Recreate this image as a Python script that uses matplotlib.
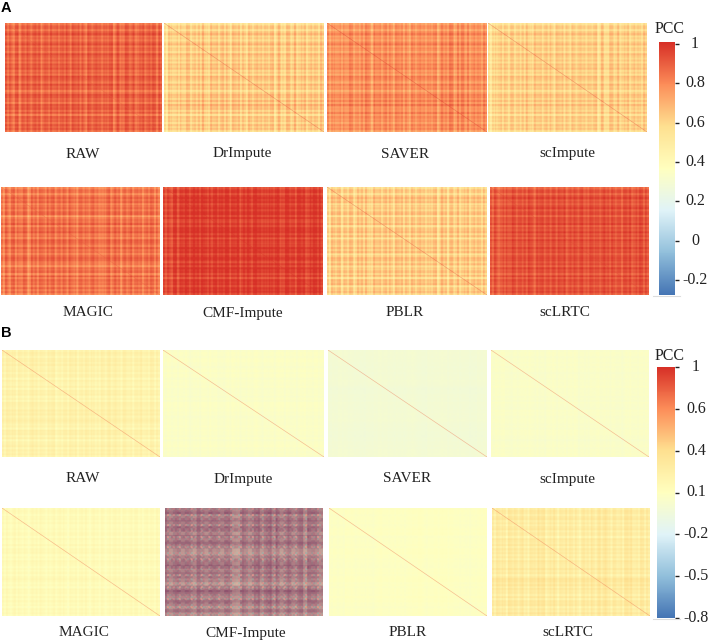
import numpy as np
import matplotlib

matplotlib.use("Agg")
import matplotlib.pyplot as plt
from matplotlib.cm import ScalarMappable
from matplotlib.colors import LinearSegmentedColormap, Normalize

W, H = 709, 642

# row / column banding, in 0.01 PCC around the panel level
names_a = ["RAW", "DrImpute", "SAVER", "scImpute", "MAGIC", "CMF-Impute", "PBLR", "scLRTC"]
names_b = ["RAW", "DrImpute", "SAVER", "scImpute", "MAGIC", "CMF-Impute", "PBLR", "scLRTC"]
levels_a = [0.89, 0.63, 0.78, 0.62, 0.85, 0.97, 0.63, 0.93]
levels_b = [0.21, 0.06, -0.01, 0.05, 0.14, 0.10, 0.08, 0.27]
diag_a = [0.9, 0.95, 1.0, 0.95, 0.9, 1.0, 0.95, 0.95]
diag_b = [0.85, 0.85, 0.85, 0.85, 0.85, 0.1, 0.85, 0.85]
grain_a = [1.6, 2.1, 1.8, 1.9, 1.8, 1.3, 2.1, 1.4]
grain_b = [1.4, 0.5, 0.2, 0.4, 1.0, 2.0, 0.3, 1.9]

# fine stripes shared by the panels, the cells are the same in every method
fine_rows = [-2, 1, 0, -3, 1, 2, -1, 1, -3, 0, 2, -2, 1, 1, -3, 2, 0, -1, 2, -3, 1, 0, 2, -2, 1, -3, 2, 1, 0, -2, 2, -1, 1, -3, 0, 2, 1, -2, 1, -3, 2, 0, 1, -2, 2, -3, 1, 0, 2, -3, 1, -1, 2, -2]
fine_cols = [1, -3, 2, 0, -2, 1, 2, -3, 1, 0, -2, 2, 1, -3, 0, 2, -1, 1, -3, 2, 1, 0, -3, 2, -1, 1, 2, -3, 0, 1, -2, 2, 1, -3, 2, 0, -1, 2, -3, 1, 1, -2, 2, 0, -3, 1, 2, -1, 0, -3, 2, 1, -2, 1, 2, -3, 0, 2, -1, 1, -3, 2, 1, -2, 0, 2, -3, 1, 1, -1, 2, -3, 0, 1, -2, 2, 1, -3, 2, -1]

raw_a_rows = [-4, 1, -1, 2, -3, 1, 2, 0, -2, 2, 1, -3, 2, 0, 1, -2, 2, 1, -1, 2, 0, -4, 1, 2, -2, 1, 2, 0, -4, 1, -3, 2, 1, -2]
raw_a_cols = [2, -2, -5, 1, -5, 2, 1, -2, 2, 0, 2, -6, 1, 2, 0, -3, 2, 1, 2, -2, 1, 2, 0, 2, -6, 1, 2, -1, 2, 1, -3, 2, 1, -5, 2, -6, 1, 2, -2, 1, -6, 2, 1, 0, 2, 1, -2, 2]
dr_a_rows = [-6, 1, -2, 2, -3, 1, 3, 0, -2, 2, 1, -3, 3, 0, 1, -2, 2, 1, -1, 2, 0, -2, 1, 3, 5, 6, 2, 0, -4, 1, -3, 3, 1, -4]
dr_a_cols = [-9, -3, 1, -7, 2, -4, 1, 2, 0, -3, 2, 5, -5, 1, 3, -2, 2, 4, 1, -5, 1, 3, 0, 2, -5, 1, 3, -1, 2, 5, -2, 2, 1, -4, 4, -6, 1, 3, -3, 5, -5, 2, 1, 0, 3, -2, 1, 2]
saver_a_rows = [-3, 0, -2, 2, -3, 1, 3, 0, -3, 2, 1, -3, 3, 0, 1, -2, 2, 1, -2, 2, 0, -2, 1, 3, 4, 5, -3, 2, 3, 1, -4, 2, 1, -3]
saver_a_cols = [2, -3, 2, -5, 1, -3, 2, 2, 0, -4, 2, 3, 1, -5, 3, -2, 2, 4, 1, -3, 1, 3, 0, 2, -5, 1, 3, -1, 2, 3, -2, 2, 1, -4, 3, 1, 4, 5, -5, 3, 5, -3, 2, 0, 3, -2, 1, 2]
sc_a_rows = [-5, 1, -2, 2, -3, 1, 2, 0, -2, 2, 1, -3, 2, 0, 1, -2, 2, 1, -1, 2, 0, -2, 1, 2, 3, 4, -2, 1, -3, 1, -3, 2, 1, -4]
sc_a_cols = [-9, -7, 1, -3, 2, 1, -3, 2, 0, -3, 2, 3, -4, 1, 3, -2, 2, 3, 1, -4, 1, 3, 0, 2, -3, 1, 3, -1, 2, 3, -2, 2, 1, -7, 4, -9, 1, 3, -2, 3, -4, 2, 1, 0, 3, -3, 1, 2]
magic_a_rows = [-3, 1, -3, 0, 2, 1, -2, 1, 2, -8, 1, 2, 0, 1, 2, -2, 1, 2, 0, 1, -1, 2, 1, 2, -5, -3, 1, -5, 2, 1, -3, 2, -2, -4]
magic_a_cols = [-3, 1, -3, 2, 1, -2, 1, 2, -8, 1, 2, 0, 1, 2, 0, 2, 1, 2, 1, 0, 2, 1, -5, 1, 2, -2, 2, 1, 0, 2, -8, 1, 2, 0, 2, 1, -4, 2, 1, 2, 0, 2, -2, 1, 2, 1, 0, -4]
cmf_a_rows = [-3, 2, -1, 1, 2, 1, 0, 1, 2, 1, -3, -2, 1, 2, 0, 1, -2, -3, 1, 2, 1, 0, 1, -2, 1, 2, 0, -2, -3, 1, -2, 1, 2, -3]
cmf_a_cols = [-3, -4, -6, 1, -4, 1, 2, 0, 1, 2, 2, 1, 0, 1, -3, 1, 2, 0, 1, 2, -2, 1, 2, -4, 1, 1, 0, 2, 1, 2, -4, 1, -3, 2, 1, -5, 1, 2, 0, -3, 2, 1, 0, -4, 2, 1, 2, -2]
pblr_a_rows = [-3, 1, -2, 2, 3, 1, -4, 1, 3, -4, 2, 1, -3, 2, 0, 2, -4, 1, 2, 0, 3, -2, 1, 2, 3, -5, 2, 1, -4, 2, 1, -3, 2, -2]
pblr_a_cols = [-5, 1, 3, 1, -3, 2, 0, 2, -5, 1, 3, 2, -6, 1, 3, -3, 2, 3, 1, -4, 1, 3, 0, 2, -3, 1, 3, -1, 2, 3, -5, 2, 1, -6, 3, 1, -4, 3, -3, 2, -4, 2, 1, 0, 3, -2, 1, -2]
lrtc_a_rows = [-5, 1, -2, 1, -2, 1, 1, 0, 1, -2, 1, 1, 0, -2, 1, 0, 1, -2, 1, 1, 0, 1, -1, 1, 0, 1, -1, -3, 1, 1, -3, 0, 1, -3]
lrtc_a_cols = [-3, -1, -5, -6, 1, -3, 1, 0, 1, -2, 1, 1, 0, -3, 1, 0, 1, 1, -1, 1, 0, 1, 1, -3, 1, 0, 1, 1, -2, 1, 0, 1, -3, 1, 1, 0, 1, -2, 1, -3, 1, 0, 1, -2, 1, 1, 0, -2]

raw_b_rows = [3, 2, 1, 4, 0, 1, -1, -2, -1, 1, -2, 0, 1, 3, 4, 3, 1, -1, 3, 0, -2, 1, 2, 0]
raw_b_cols = [1, 3, -1, 2, -2, 3, 2, -1, 0, 2, -2, -1, 1, 2, -1, 1, 3, -2, 1, 0, 3, 2, -1, 2, -2, 0, 2, -2, 1, -1]
dr_b_rows = [1, 1, 0, 1, 0, 0, -1, 0, 1, 0, -1, 1, 0, 0, 1, -1]
dr_b_cols = [1, 0, 1, -1, 0, 1, 0, -1, 1, 0, 0, 1, -1, 0, 1, 0, -1, 1, 0, 1]
saver_b_rows = [1, 0, 0, 1, -1, 0, 0, 1, 0, -1, 0, 1]
saver_b_cols = [0, 1, 0, -1, 0, 1, 0, 0, 1, -1, 0, 1, 0, 0, -1, 0]
sc_b_rows = [1, 0, 1, -1, 0, 1, 0, 0, -1, 1, 0, 0, 1, -1, 0, 1]
sc_b_cols = [1, 1, -1, 0, 1, 0, -1, 1, 0, 0, 1, -1, 0, 1, 0, 0, -1, 1, 0, 1]
magic_b_rows = [2, 1, -1, 1, -2, 1, 0, -1, 1, 2, -1, 1, 0, -2, 1, 2, 0, -1, 1, 0, 2, -2, 1, 0]
magic_b_cols = [1, -1, 2, 0, -2, 1, 2, 0, -1, 1, 2, -2, 1, 0, 2, -1, 1, 0, -2, 2, 1, -1, 0, 2, -2, 1, 0, 2]
cmf_b_rows = [78, 82, 74, 84, 76, 80, 86, 72, 82, 76, 84, 78, 68, 66, 74, 82, 78, 86, 74, 80, 76, 72, 64, 78, 84, 80, 74, 82, 76, 70, 78, 68]
cmf_b_cols = [4, -4, 2, 6, -2, 4, 0, -6, 4, 2, -4, 6, 0, 2, -4, 6, 2, -8, -10, 4, 0, -6, 2, 6, -4, 2, 8, -2, 4, -6, 2, 6, -4, 0, 4, -8, 2, 4, 0, -6]
pblr_b_rows = [1, 0, 0, 1, -1, 0, 1, 0, -1, 0, 1, 0, 0, 1, -1, 0]
pblr_b_cols = [0, -1, 1, 0, 0, -1, 1, 0, 1, 0, 1, 2, 0, 1, 2, 1, 0, -1, 0, 1]
lrtc_b_rows = [2, 3, 1, -2, 2, 0, -1, -3, 1, 0, 2, -2, 0, 1, -2, 2, 0, -1, 5, 6, 5, 0, -2, 1, 3, 0, -1, 2]
lrtc_b_cols = [1, 4, -2, 6, 1, 4, -2, 1, 6, 5, -1, 4, -3, 1, 3, 0, -3, 1, 3, -1, 5, 6, -1, 1, -2, 6, 5, -2, 3, 1]

rows_a = [raw_a_rows, dr_a_rows, saver_a_rows, sc_a_rows, magic_a_rows, cmf_a_rows, pblr_a_rows, lrtc_a_rows]
cols_a = [raw_a_cols, dr_a_cols, saver_a_cols, sc_a_cols, magic_a_cols, cmf_a_cols, pblr_a_cols, lrtc_a_cols]
rows_b = [raw_b_rows, dr_b_rows, saver_b_rows, sc_b_rows, magic_b_rows, cmf_b_rows, pblr_b_rows, lrtc_b_rows]
cols_b = [raw_b_cols, dr_b_cols, saver_b_cols, sc_b_cols, magic_b_cols, cmf_b_cols, pblr_b_cols, lrtc_b_cols]

ticks_a = [1, 0.8, 0.6, 0.4, 0.2, 0, -0.2]
tick_labels_a = ["1", "0.8", "0.6", "0.4", "0.2", "0", "-0.2"]
ticks_b = [1, 0.7, 0.4, 0.1, -0.2, -0.5, -0.8]
tick_labels_b = ["1", "0.6", "0.4", "0.1", "-0.2", "-0.5", "-0.8"]

ramp_colors = ["#4575B4", "#91BFDB", "#E0F3F8", "#FFFFBF", "#FEE090", "#FC8D59", "#D73027"]

# left, right, top, bottom in pixels of the picture
boxes_a = [
    (5, 162, 23, 132), (164, 324, 23, 132), (327, 486, 23, 132), (488, 647, 23, 132),
    (1, 160, 187, 295), (163, 323, 187, 295), (327, 486, 187, 295), (490, 649, 187, 295),
]
boxes_b = [
    (2, 160, 350, 457), (163, 324, 350, 457), (328, 486, 350, 457), (491, 649, 350, 457),
    (2, 160, 508, 616), (165, 323, 508, 616), (329, 486, 508, 616), (492, 650, 508, 616),
]
label_x_a = [83, 242, 405, 567, 88, 243, 405, 565]
label_x_b = [83, 243, 407, 567, 84, 246, 408, 568]

N = 320
SERIF = "Liberation Serif"
cmap = LinearSegmentedColormap.from_list("pcc", ramp_colors)

fig = plt.figure(figsize=(W / 100, H / 100), dpi=100)


def add_px_axes(left, right, top, bottom):
    return fig.add_axes([left / W, 1 - bottom / H, (right - left) / W, (bottom - top) / H])


def stretch(values):
    values = np.array(values, dtype=float)
    return values[np.arange(N) * len(values) // N]


def build_matrix(level, rows, cols, grain, diag):
    coarse = stretch(rows)[:, None] + stretch(cols)[None, :]
    fine = stretch(fine_rows)[:, None] + stretch(fine_cols)[None, :]
    mat = level + (0.7 * coarse + grain * fine) * 0.01
    np.fill_diagonal(mat, diag)
    return mat


def build_mixed_matrix(level, rows, cols, grain):
    # strongly positive and negative cells, too fine to resolve at this size
    amp = (stretch(rows)[:, None] + stretch(cols)[None, :]) * 0.01
    i, j = np.indices((N, N))
    specks = stretch(fine_rows)[:, None] * stretch(fine_cols)[None, :] * 0.03 * grain
    return level + amp * np.where((i + j) % 2 == 0, 1.0, -1.0) + specks


def draw_heatmap(mat, box, norm):
    ax = add_px_axes(*box)
    ax.imshow(
        mat,
        cmap=cmap,
        norm=norm,
        aspect="auto",
        interpolation="hanning",
        interpolation_stage="rgba",
    )
    ax.axis("off")


def draw_colorbar(left, right, top, bottom, norm, ticks, labels, label_x, pcc_y):
    cax = add_px_axes(left, right, top, bottom)
    cbar = fig.colorbar(ScalarMappable(norm=norm, cmap=cmap), cax=cax)
    cbar.outline.set_visible(False)
    cbar.set_ticks(ticks)
    cbar.set_ticklabels([""] * len(ticks))
    cax.tick_params(axis="y", length=3, width=1, color="#222222", pad=0)
    for value, text in zip(ticks, labels):
        cax.text(
            (label_x - left) / (right - left),
            value,
            text,
            transform=cax.get_yaxis_transform(),
            ha="center",
            va="center",
            family=SERIF,
            fontsize=11.5,
            color="#222222",
        )
    fig.text(670 / W, 1 - pcc_y / H, "PCC", family=SERIF, fontsize=11.5,
             ha="center", va="center", color="#222222")
    fig.add_artist(plt.Line2D([653 / W, 680 / W], [1 - (bottom + 1) / H] * 2, color="#dddddd", lw=0.8))


norm_a = Normalize(-0.276, 1.01)
norm_b = Normalize(-0.8, 1.0)

for k in range(8):
    mat = build_matrix(levels_a[k], rows_a[k], cols_a[k], grain_a[k], diag_a[k])
    draw_heatmap(mat, boxes_a[k], norm_a)
    label_y = 154 if k < 4 else 313
    fig.text(label_x_a[k] / W, 1 - label_y / H, names_a[k], family=SERIF, fontsize=11,
             ha="center", va="center", color="#222222")

for k in range(8):
    if names_b[k] == "CMF-Impute":
        mat = build_mixed_matrix(levels_b[k], rows_b[k], cols_b[k], grain_b[k])
    else:
        mat = build_matrix(levels_b[k], rows_b[k], cols_b[k], grain_b[k], diag_b[k])
    draw_heatmap(mat, boxes_b[k], norm_b)
    label_y = 479 if k < 4 else 633
    fig.text(label_x_b[k] / W, 1 - label_y / H, names_b[k], family=SERIF, fontsize=11,
             ha="center", va="center", color="#222222")

draw_colorbar(659, 675, 42, 295, norm_a, ticks_a, tick_labels_a, 695, 29)
draw_colorbar(657, 675, 367, 618, norm_b, ticks_b, tick_labels_b, 696, 356)

fig.text(6 / W, 1 - 8 / H, "A", family="Liberation Sans", fontweight="bold", fontsize=10.5,
         ha="center", va="center")
fig.text(6 / W, 1 - 333 / H, "B", family="Liberation Sans", fontweight="bold", fontsize=10.5,
         ha="center", va="center")

fig.savefig("out.png", dpi=100)
